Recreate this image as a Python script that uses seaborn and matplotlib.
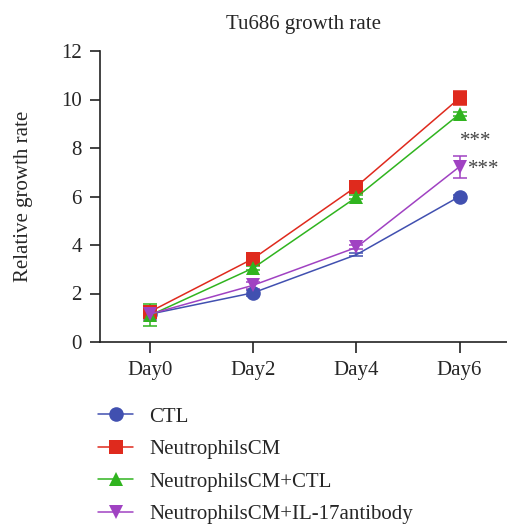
import numpy as np
import pandas as pd
import matplotlib
matplotlib.use("Agg")
import matplotlib.pyplot as plt
import seaborn as sns

# ------------------------------------------------------------
# Dati
# ------------------------------------------------------------
days = ["Day0", "Day2", "Day4", "Day6"]
groups = ["CTL", "NeutrophilsCM", "NeutrophilsCM+CTL", "NeutrophilsCM+IL-17antibody"]

ctl = [1.15, 2.03, 3.60, 6.00]
ctl_err = [0.10, 0.12, 0.05, 0.05]
cm = [1.25, 3.44, 6.41, 10.06]
cm_err = [0.12, 0.10, 0.08, 0.30]
cm_ctl = [1.10, 3.05, 5.97, 9.40]
cm_ctl_err = [0.45, 0.08, 0.08, 0.08]
cm_il17 = [1.15, 2.34, 3.90, 7.23]
cm_il17_err = [0.25, 0.15, 0.08, 0.45]

stars = ["***", "***"]
star_groups = ["NeutrophilsCM+CTL", "NeutrophilsCM+IL-17antibody"]

colors = ["#4150B0", "#DF2A1D", "#30B41F", "#A042C2"]
markers = ["o", "s", "^", "v"]

values = [ctl, cm, cm_ctl, cm_il17]
errors = [ctl_err, cm_err, cm_ctl_err, cm_il17_err]

# tabella lunga per seaborn
rows = []
for g, v, e in zip(groups, values, errors):
    for i, d in enumerate(days):
        rows.append({"pos": i, "day": d, "group": g, "value": v[i], "err": e[i]})
df = pd.DataFrame(rows)

# ------------------------------------------------------------
# Grafico
# ------------------------------------------------------------
sns.set_style("ticks")
plt.rcParams["font.family"] = ["Liberation Serif", "DejaVu Serif"]
plt.rcParams["font.size"] = 15

fig = plt.figure(figsize=(5.07, 5.27), dpi=100)
ax = fig.add_axes([100 / 507, 185 / 527, 407 / 507, 291 / 527])

palette = dict(zip(groups, colors))
marker_map = dict(zip(groups, markers))

sns.lineplot(
    data=df, x="pos", y="value", hue="group", style="group",
    palette=palette, markers=marker_map, dashes=False,
    markersize=10.5, linewidth=1.1, markeredgewidth=0,
    ax=ax, legend=False, zorder=3
)
# nel originale il cerchio CTL a Day4 non si vede
ax.lines[0].set_markevery([0, 1, 3])

# barre d'errore
for g, c in zip(groups, colors):
    sub = df[df["group"] == g]
    ax.errorbar(sub["pos"], sub["value"], yerr=sub["err"], fmt="none",
                ecolor=c, elinewidth=1.1, capsize=5, capthick=1.1, zorder=2)

# asterischi di significatività
offsets = [(0, -20), (6, -2)]
for s, g, off in zip(stars, star_groups, offsets):
    sub = df[df["group"] == g]
    x, y = sub["pos"].iloc[-1], sub["value"].iloc[-1]
    ax.annotate(s, (x, y), xytext=off, textcoords="offset points",
                ha="left", va="center", fontsize=15, color="#444444")

ax.set_xlim(-0.485, 3.46)
ax.set_ylim(0, 12)
ax.set_yticks(np.arange(0, 13, 2))
ax.set_xticks(range(len(days)))
ax.set_xticklabels(days)
ax.set_xlabel("")
ax.set_ylabel("Relative growth rate", fontsize=15, labelpad=20)
ax.set_title("Tu686 growth rate", fontsize=15, pad=16)

for sp in ["top", "right"]:
    ax.spines[sp].set_visible(False)
for sp in ["left", "bottom"]:
    ax.spines[sp].set_linewidth(1.2)
    ax.spines[sp].set_color("#222222")
ax.tick_params(axis="both", length=7, width=1.2, color="#222222", labelsize=15, pad=6)
ax.tick_params(axis="x", length=8)

# legenda sotto il grafico
handles = [
    plt.Line2D([], [], color=c, marker=m, markersize=10.5, markeredgewidth=0, linewidth=1.1)
    for c, m in zip(colors, markers)
]
fig.legend(handles, groups, loc="upper left", bbox_to_anchor=(98 / 507, 120 / 527),
           frameon=False, fontsize=15, handlelength=1.7, handletextpad=0.75,
           labelspacing=0.62, borderpad=0, borderaxespad=0)

fig.savefig("out.png", dpi=100)
